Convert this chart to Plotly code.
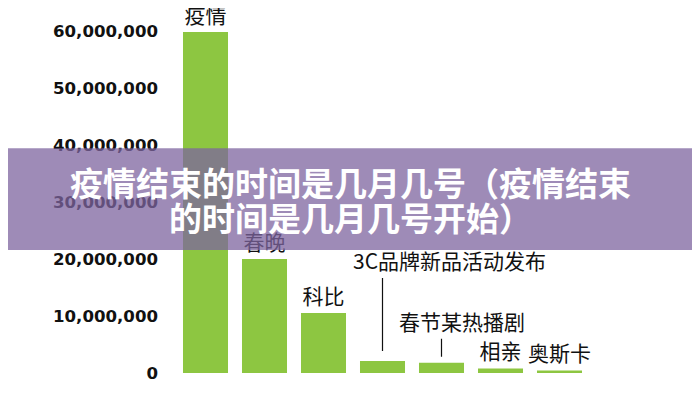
import plotly.graph_objects as go

# 数据
categories = ["疫情", "春晚", "科比", "3C品牌新品活动发布", "春节某热播剧", "相亲", "奥斯卡"]
values = [59800000, 20000000, 10500000, 2100000, 1800000, 800000, 450000]
bar_labels = ["疫情", "春晚", "科比", "", "", "相亲", "奥斯卡"]
tick_vals = [0, 10000000, 20000000, 30000000, 40000000, 50000000, 60000000]
tick_text = ["0", "10,000,000", "20,000,000", "30,000,000", "40,000,000", "50,000,000", "60,000,000"]
title_lines = ["疫情结束的时间是几月几号（疫情结束", "的时间是几月几号开始）"]

cjk = "Noto Sans CJK SC"

fig = go.Figure()
fig.add_trace(go.Bar(
    x=categories, y=values,
    marker=dict(color="#8DC641", line=dict(width=0)),
    text=bar_labels, textposition="outside", cliponaxis=False, constraintext="none",
    textfont=dict(family=cjk, size=21, color="#111111"),
    hoverinfo="skip",
))

# 带引线的标签：文字偏右，引线竖直
for idx, dx, dy, line_len, stand in [(3, 67, 101, -85, 10), (4, 20, 42, -26, 6)]:
    cat = categories[idx]
    fig.add_annotation(
        x=cat, y=values[idx], text=" ", font=dict(size=1),
        showarrow=True, arrowhead=0, arrowwidth=1.2, arrowcolor="#111111",
        ax=0, ay=line_len, standoff=stand,
    )
    fig.add_annotation(
        x=cat, y=values[idx], text=cat, showarrow=False,
        xshift=dx, yshift=dy, yanchor="middle",
        font=dict(family=cjk, size=21, color="#111111"),
    )

# 紫色横幅
fig.add_shape(type="rect", xref="paper", yref="paper",
              x0=-0.5, x1=1.4, y0=0.337, y1=0.616,
              fillcolor="rgba(125,100,159,0.75)", line=dict(width=0), layer="above")
for i, line in enumerate(title_lines):
    fig.add_annotation(
        xref="paper", yref="paper", x=(350 - 176) / 413, y=[0.523, 0.427][i],
        text=line, showarrow=False, xanchor="center", yanchor="middle",
        font=dict(family=cjk, size=33, color="white", weight="bold"),
    )

fig.update_layout(
    width=700, height=400,
    margin=dict(l=168, r=119, t=0, b=35),
    paper_bgcolor="white", plot_bgcolor="white",
    bargap=0.237, showlegend=False,
)
fig.update_xaxes(showticklabels=False, showline=False, showgrid=False, zeroline=False,
                 automargin=False)
fig.update_yaxes(
    range=[0, 64000000], tickvals=tick_vals, ticktext=tick_text,
    showgrid=False, zeroline=False, showline=False, ticklabelstandoff=17, automargin=False,
    tickfont=dict(family="DejaVu Sans", size=16.6, color="#111111", weight="bold"),
)

fig.write_html("out.html")
